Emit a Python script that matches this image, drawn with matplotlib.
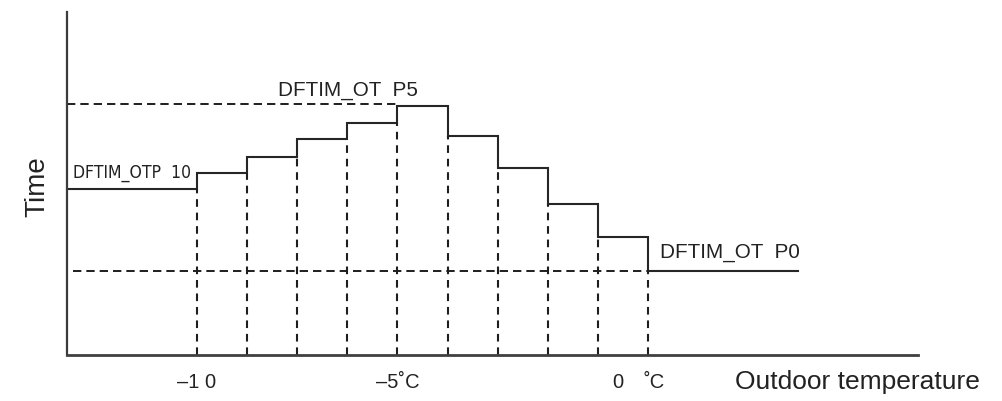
import matplotlib
matplotlib.use("Agg")
import matplotlib.pyplot as plt

plt.rcParams['font.family'] = ['Liberation Sans', 'DejaVu Sans']
plt.rcParams['lines.scale_dashes'] = False

# Data
breakpoints = [-10, -8.75, -7.5, -6.25, -5, -3.75, -2.5, -1.25, 0, 1.25]   # outdoor temp (°C)
x_start = -13.24
x_end_flat = 5.0
base_level = 165.7                      # DFTIM_OTP10 level (left of -10°C)
segment_levels = [182.3, 198.3, 215.7, 231.7, 248.7, 219.0, 187.0, 151.0, 118.3, 84.3]
p5_ref = 251.0
p0_ref = 84.3
tick_labels = ["–1 0", "–5˚C", "0", "˚C"]
tick_pos = [-10, -5, 0.49, 1.4]

fig = plt.figure(figsize=(10.03, 4.01), dpi=100)
ax = fig.add_axes([67/1003, 46/401, 851/1003, 343/401])
ax.set_xlim(x_start, 7.98)
ax.set_ylim(0, 343)

line_c = '#262626'
dash_c = '#1e1e1e'

# step line
xs = [x_start]
ys = [base_level]
prev = base_level
ends = breakpoints[1:] + [x_end_flat]
for bp, lev, e in zip(breakpoints, segment_levels, ends):
    xs += [bp, bp, e]
    ys += [prev, lev, lev]
    prev = lev
ax.plot(xs, ys, color=line_c, lw=1.5, solid_joinstyle='miter', clip_on=False)

# horizontal dashed references
ax.plot([x_start, breakpoints[4]], [p5_ref, p5_ref], color=dash_c, lw=1.4, dashes=(6, 3.6))
ax.plot([x_start + 0.15, breakpoints[-1]], [p0_ref, p0_ref], color=dash_c, lw=1.4, dashes=(6, 3.6))

# vertical dashed lines
prev = base_level
for bp, lev in zip(breakpoints, segment_levels):
    top = min(prev, lev)
    ax.plot([bp, bp], [0, top], color=dash_c, lw=1.5, dashes=(5.5, 4.2))
    prev = lev

# spines
for s in ['top', 'right']:
    ax.spines[s].set_visible(False)
ax.spines['left'].set_color('#3c3c3c')
ax.spines['left'].set_linewidth(1.6)
ax.spines['bottom'].set_color('#404040')
ax.spines['bottom'].set_linewidth(2.0)
ax.set_xticks([])
ax.set_yticks([])
ax.patch.set_alpha(0)

# texts
txt_c = '#222222'
for lab, p in zip(tick_labels, tick_pos):
    ax.text(p, -27, lab, ha='center', va='center', fontsize=14.5, color=txt_c, clip_on=False)
ax.text(3.42, -27, "Outdoor temperature", ha='left', va='center', fontsize=19, color=txt_c, clip_on=False)
ax.text(-13.97, 168, "Time", ha='center', va='center', rotation=90, fontsize=20, color=txt_c, clip_on=False)

ax.text(-13.09, 182, "DFTIM_OTP  10", ha='left', va='center', fontsize=12.6,
        family='DejaVu Sans', fontstretch='condensed', color=txt_c)
ax.text(-7.98, 265, "DFTIM_OT  P5", ha='left', va='center', fontsize=14.9, color=txt_c)
ax.text(1.55, 103, "DFTIM_OT  P0", ha='left', va='center', fontsize=14.9, color=txt_c)

fig.savefig("out.png", dpi=100, facecolor='white')
